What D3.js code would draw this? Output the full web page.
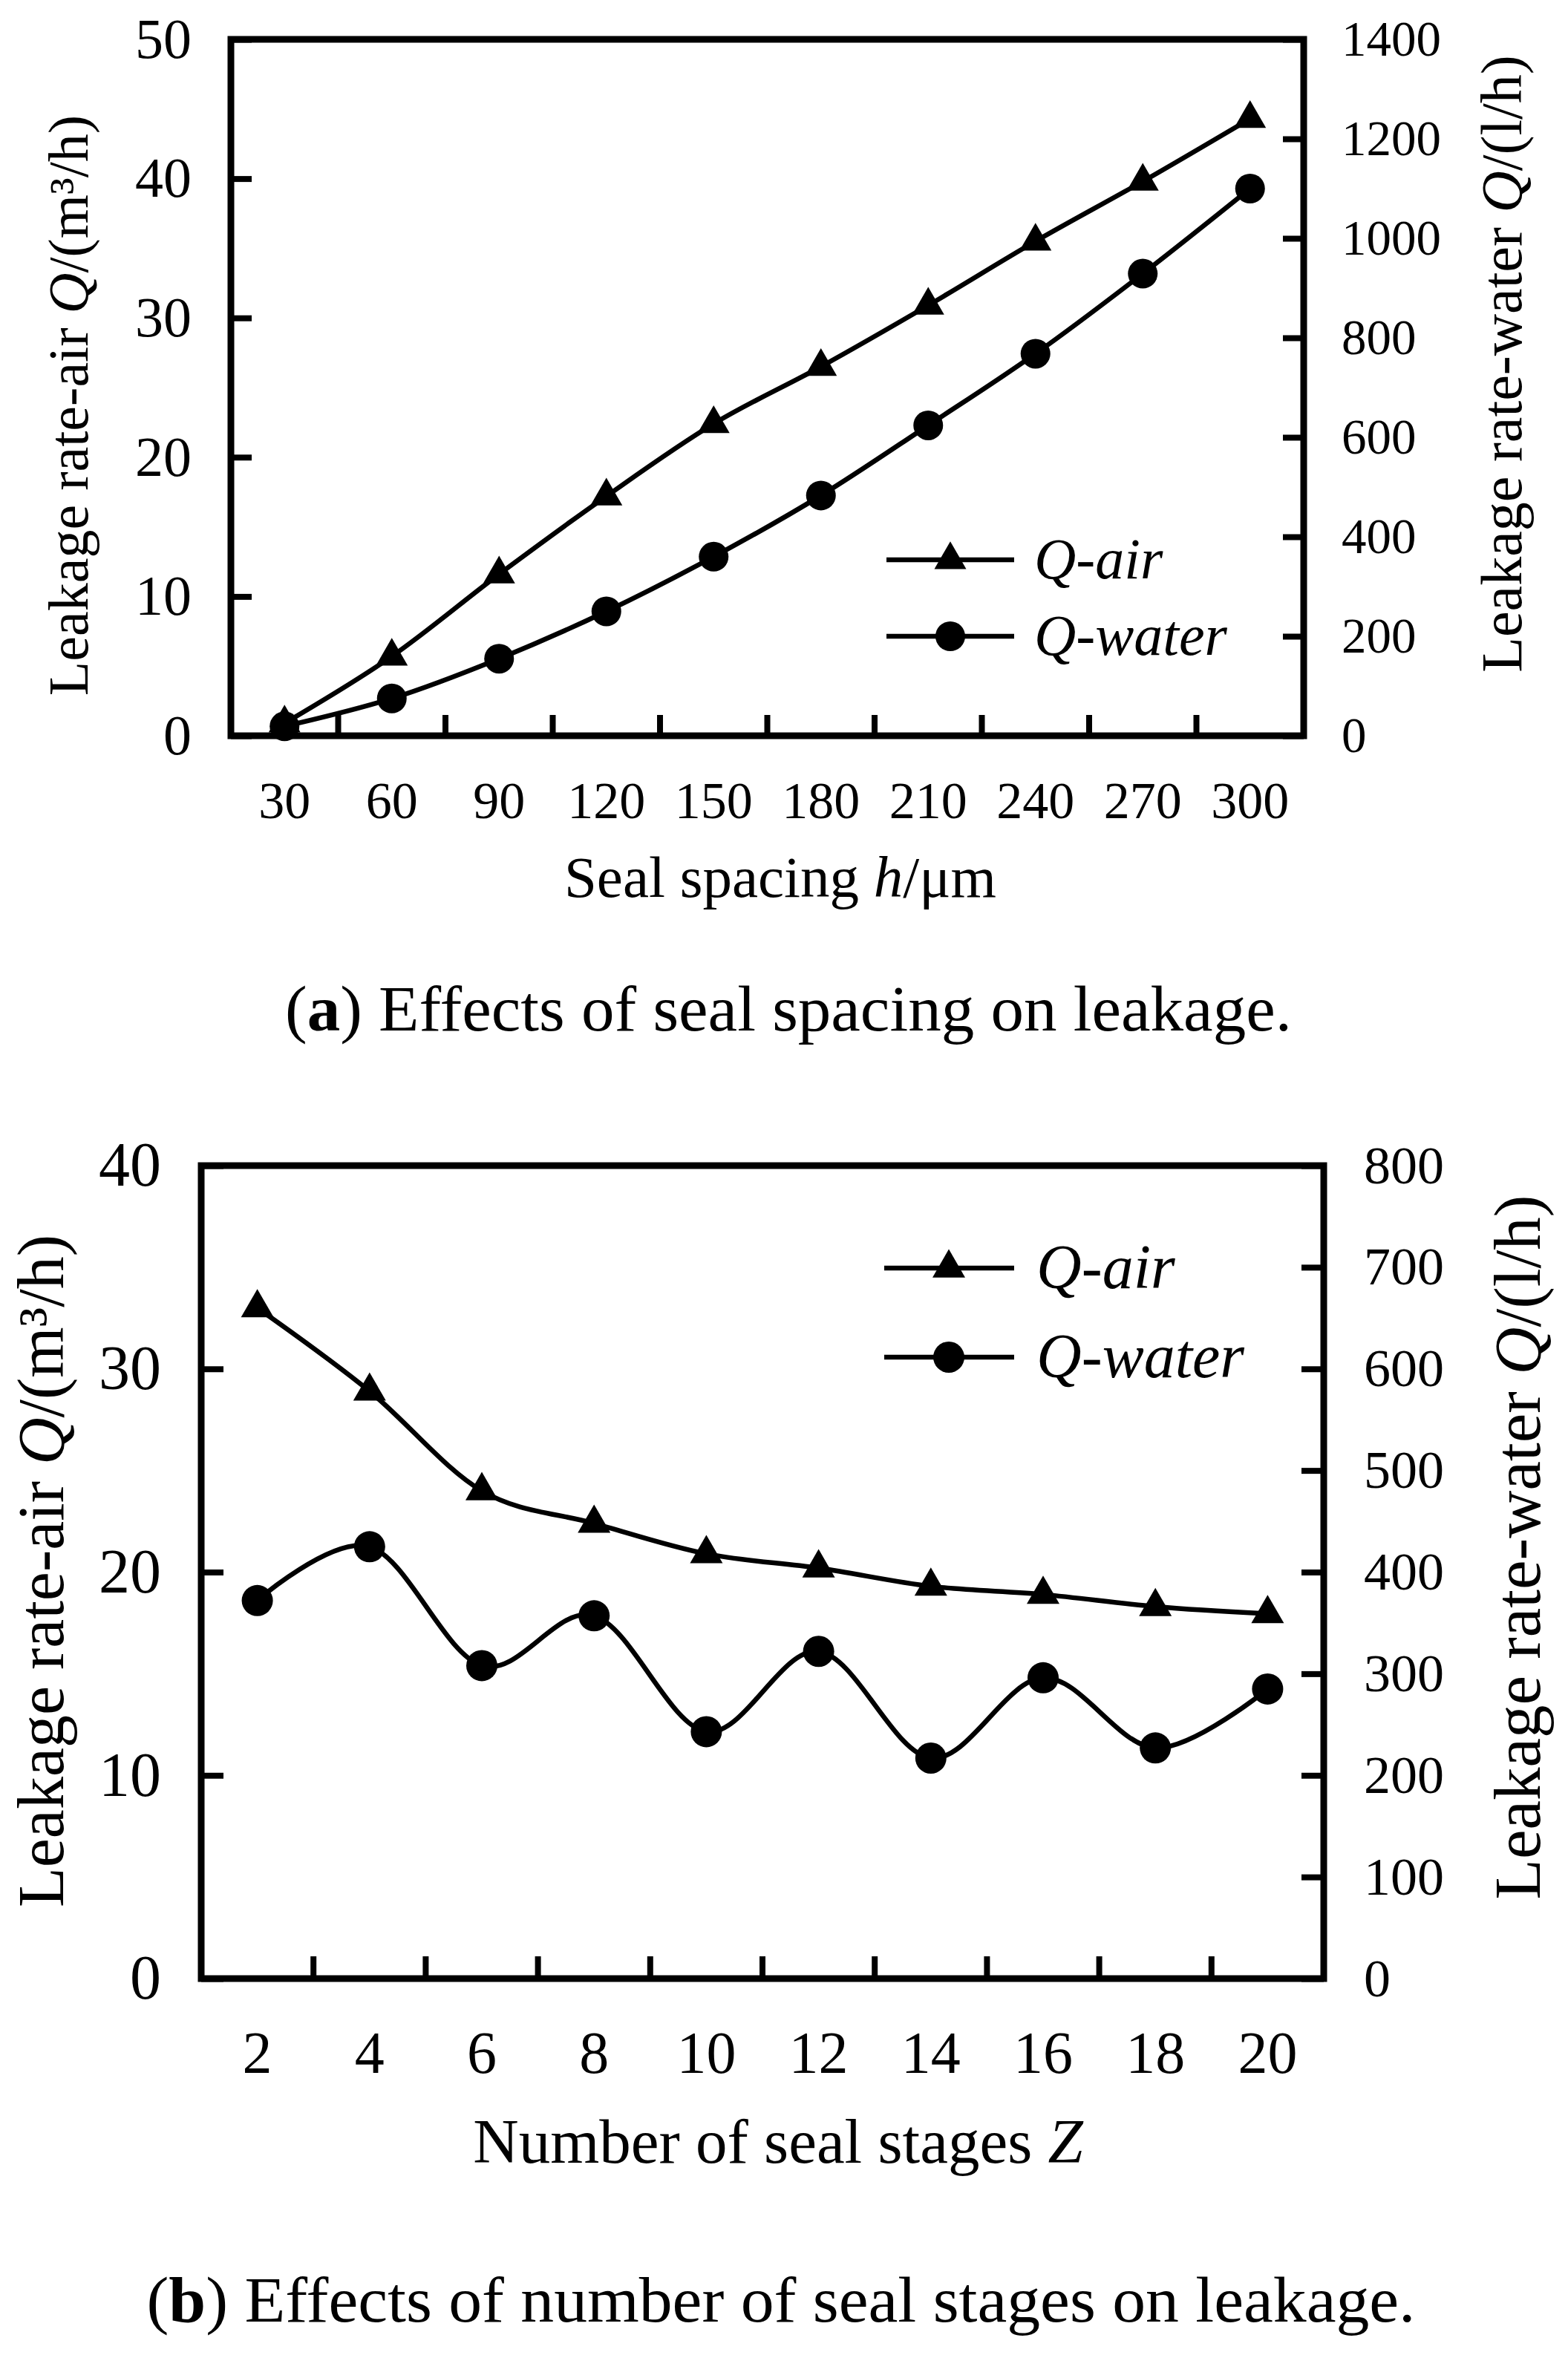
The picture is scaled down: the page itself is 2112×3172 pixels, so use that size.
<!DOCTYPE html>
<html>
<head>
<meta charset="utf-8">
<script src="https://cdn.jsdelivr.net/npm/d3@7"></script>
<style>
  body { margin: 0; background: #fff; }
  svg { display: block; }
</style>
</head>
<body>
<svg></svg>
<script>
const FONT = "'Liberation Serif', 'Times New Roman', serif";

// (a) seal spacing
const spacing = [30, 60, 90, 120, 150, 180, 210, 240, 270, 300];
const airBySpacing = [0.9, 5.7, 11.6, 17.2, 22.4, 26.5, 30.9, 35.5, 39.8, 44.3];
const waterBySpacing = [19, 75, 155, 250, 360, 483, 624, 768, 929, 1100];
const airTicksA = [0, 10, 20, 30, 40, 50];
const waterTicksA = [0, 200, 400, 600, 800, 1000, 1200, 1400];

// (b) number of seal stages
const stages = [2, 4, 6, 8, 10, 12, 14, 16, 18, 20];
const airByStages = [33.0, 28.9, 24.0, 22.4, 20.9, 20.2, 19.3, 18.9, 18.3, 17.95];
const waterByStages = [372, 425, 308, 357, 243, 322, 217, 296, 227, 285];
const airTicksB = [0, 10, 20, 30, 40];
const waterTicksB = [0, 100, 200, 300, 400, 500, 600, 700, 800];

const legendLabels = ['Q-air', 'Q-water'];

const svg = d3.select('svg')
  .attr('width', 2112)
  .attr('height', 3172)
  .style('font-family', FONT);

const panels = [
  {
    categories: spacing, air: airBySpacing, water: waterBySpacing,
    airTicks: airTicksA, waterTicks: waterTicksA,
    left: 311, right: 1756, top: 53, bottom: 991,
    leftPad: 53, rightPad: 51, tickLen: 28,
    leftFont: 76, rightFont: 67, xFont: 70, xLabelOffset: 111,
    xTitle: { x: 1051, y: 1208, size: 79, parts: [['Seal spacing ', false], ['h', true], ['/μm', false]] },
    yTitleL: { x: 118, y: 546, size: 76 },
    yTitleR: { x: 2049, y: 490, size: 78 },
    legend: { x1: 1194, x2: 1366, mx: 1280, ys: [754, 857], tx: 1393, size: 78 },
    caption: { x: 1062, y: 1388, len: 1356, size: 86, tag: 'a', text: ' Effects of seal spacing on leakage.' },
    triSide: 43, circleR: 20
  },
  {
    categories: stages, air: airByStages, water: waterByStages,
    airTicks: airTicksB, waterTicks: waterTicksB,
    left: 271, right: 1783, top: 1570, bottom: 2665,
    leftPad: 54, rightPad: 54, tickLen: 30,
    leftFont: 84, rightFont: 72, xFont: 80, xLabelOffset: 127,
    xTitle: { x: 1048, y: 2913, size: 85, parts: [['Number of seal stages ', false], ['Z', true]] },
    yTitleL: { x: 85, y: 2116, size: 88 },
    yTitleR: { x: 2074, y: 2084, size: 89 },
    legend: { x1: 1191, x2: 1366, mx: 1278, ys: [1708, 1828], tx: 1396, size: 84 },
    caption: { x: 1052, y: 3127, len: 1709, size: 86, tag: 'b', text: ' Effects of number of seal stages on leakage.' },
    triSide: 44, circleR: 21
  }
];

const styleAxis = (a, size) => {
  a.attr('font-family', FONT).attr('font-size', size);
  a.select('.domain').remove();
  a.selectAll('line').attr('stroke', '#000').attr('stroke-width', 8);
  a.selectAll('text').attr('fill', '#000');
};

const drawPanel = p => {
  const g = svg.append('g');

  const x = d3.scaleBand()
    .domain(p.categories)
    .range([p.left, p.right])
    .padding(0);
  const cx = d => x(d) + x.bandwidth() / 2;

  const yAir = d3.scaleLinear()
    .domain(d3.extent(p.airTicks))
    .range([p.bottom, p.top]);
  const yWater = d3.scaleLinear()
    .domain(d3.extent(p.waterTicks))
    .range([p.bottom, p.top]);

  // left axis (air), ticks pointing inward
  g.append('g')
    .attr('transform', `translate(${p.left},0)`)
    .call(d3.axisLeft(yAir).tickValues(p.airTicks).tickFormat(d3.format('d'))
      .tickSize(-p.tickLen).tickPadding(p.leftPad))
    .call(a => styleAxis(a, p.leftFont));

  // right axis (water)
  g.append('g')
    .attr('transform', `translate(${p.right},0)`)
    .call(d3.axisRight(yWater).tickValues(p.waterTicks).tickFormat(d3.format('d'))
      .tickSize(-p.tickLen).tickPadding(p.rightPad))
    .call(a => styleAxis(a, p.rightFont));

  // category labels
  g.append('g')
    .attr('transform', `translate(0,${p.bottom})`)
    .call(d3.axisBottom(x).tickSize(0))
    .call(a => styleAxis(a, p.xFont))
    .call(a => a.selectAll('text').attr('dy', null).attr('y', p.xLabelOffset));

  // tick marks between categories
  g.append('g').selectAll('line')
    .data(p.categories.slice(1))
    .join('line')
    .attr('x1', d => x(d))
    .attr('x2', d => x(d))
    .attr('y1', p.bottom)
    .attr('y2', p.bottom - p.tickLen)
    .attr('stroke', '#000')
    .attr('stroke-width', 8);

  // frame
  g.append('rect')
    .attr('x', p.left)
    .attr('y', p.top)
    .attr('width', p.right - p.left)
    .attr('height', p.bottom - p.top)
    .attr('fill', 'none')
    .attr('stroke', '#000')
    .attr('stroke-width', 9);

  const curve = d3.curveCardinal.tension(0);
  const series = [
    { values: p.air, y: yAir, symbol: d3.symbolTriangle, area: Math.sqrt(3) / 4 * p.triSide * p.triSide },
    { values: p.water, y: yWater, symbol: d3.symbolCircle, area: Math.PI * p.circleR * p.circleR }
  ];

  series.forEach(s => {
    const pts = p.categories.map((c, i) => [cx(c), s.y(s.values[i])]);
    g.append('path')
      .attr('d', d3.line().curve(curve)(pts))
      .attr('fill', 'none')
      .attr('stroke', '#000')
      .attr('stroke-width', 6.5);
    g.append('g').selectAll('path')
      .data(pts)
      .join('path')
      .attr('transform', d => `translate(${d[0]},${d[1]})`)
      .attr('d', d3.symbol(s.symbol, s.area))
      .attr('fill', '#000');
  });

  // legend
  const lg = p.legend;
  series.forEach((s, i) => {
    const y = lg.ys[i];
    g.append('line')
      .attr('x1', lg.x1).attr('x2', lg.x2)
      .attr('y1', y).attr('y2', y)
      .attr('stroke', '#000')
      .attr('stroke-width', 6.5);
    g.append('path')
      .attr('transform', `translate(${lg.mx},${y})`)
      .attr('d', d3.symbol(s.symbol, s.area))
      .attr('fill', '#000');
    g.append('text')
      .attr('x', lg.tx)
      .attr('y', y)
      .attr('dy', '0.32em')
      .attr('font-size', lg.size)
      .attr('font-style', 'italic')
      .text(legendLabels[i]);
  });

  // axis titles
  const xt = g.append('text')
    .attr('x', p.xTitle.x)
    .attr('y', p.xTitle.y)
    .attr('text-anchor', 'middle')
    .attr('font-size', p.xTitle.size);
  p.xTitle.parts.forEach(([t, it]) => {
    xt.append('tspan').attr('font-style', it ? 'italic' : null).text(t);
  });

  const yTitle = (conf, parts) => {
    const t = g.append('text')
      .attr('transform', `translate(${conf.x},${conf.y}) rotate(-90)`)
      .attr('text-anchor', 'middle')
      .attr('font-size', conf.size);
    parts.forEach(([s, it]) => {
      t.append('tspan').attr('font-style', it ? 'italic' : null).text(s);
    });
  };
  yTitle(p.yTitleL, [['Leakage rate-air ', false], ['Q', true], ['/(m³/h)', false]]);
  yTitle(p.yTitleR, [['Leakage rate-water ', false], ['Q', true], ['/(l/h)', false]]);

  // caption
  const cap = g.append('text')
    .attr('x', p.caption.x)
    .attr('y', p.caption.y)
    .attr('text-anchor', 'middle')
    .attr('font-size', p.caption.size)
    .attr('textLength', p.caption.len)
    .attr('lengthAdjust', 'spacingAndGlyphs');
  cap.append('tspan').text('(');
  cap.append('tspan').attr('font-weight', 'bold').text(p.caption.tag);
  cap.append('tspan').text(')' + p.caption.text);
};

panels.forEach(drawPanel);
</script>
</body>
</html>
